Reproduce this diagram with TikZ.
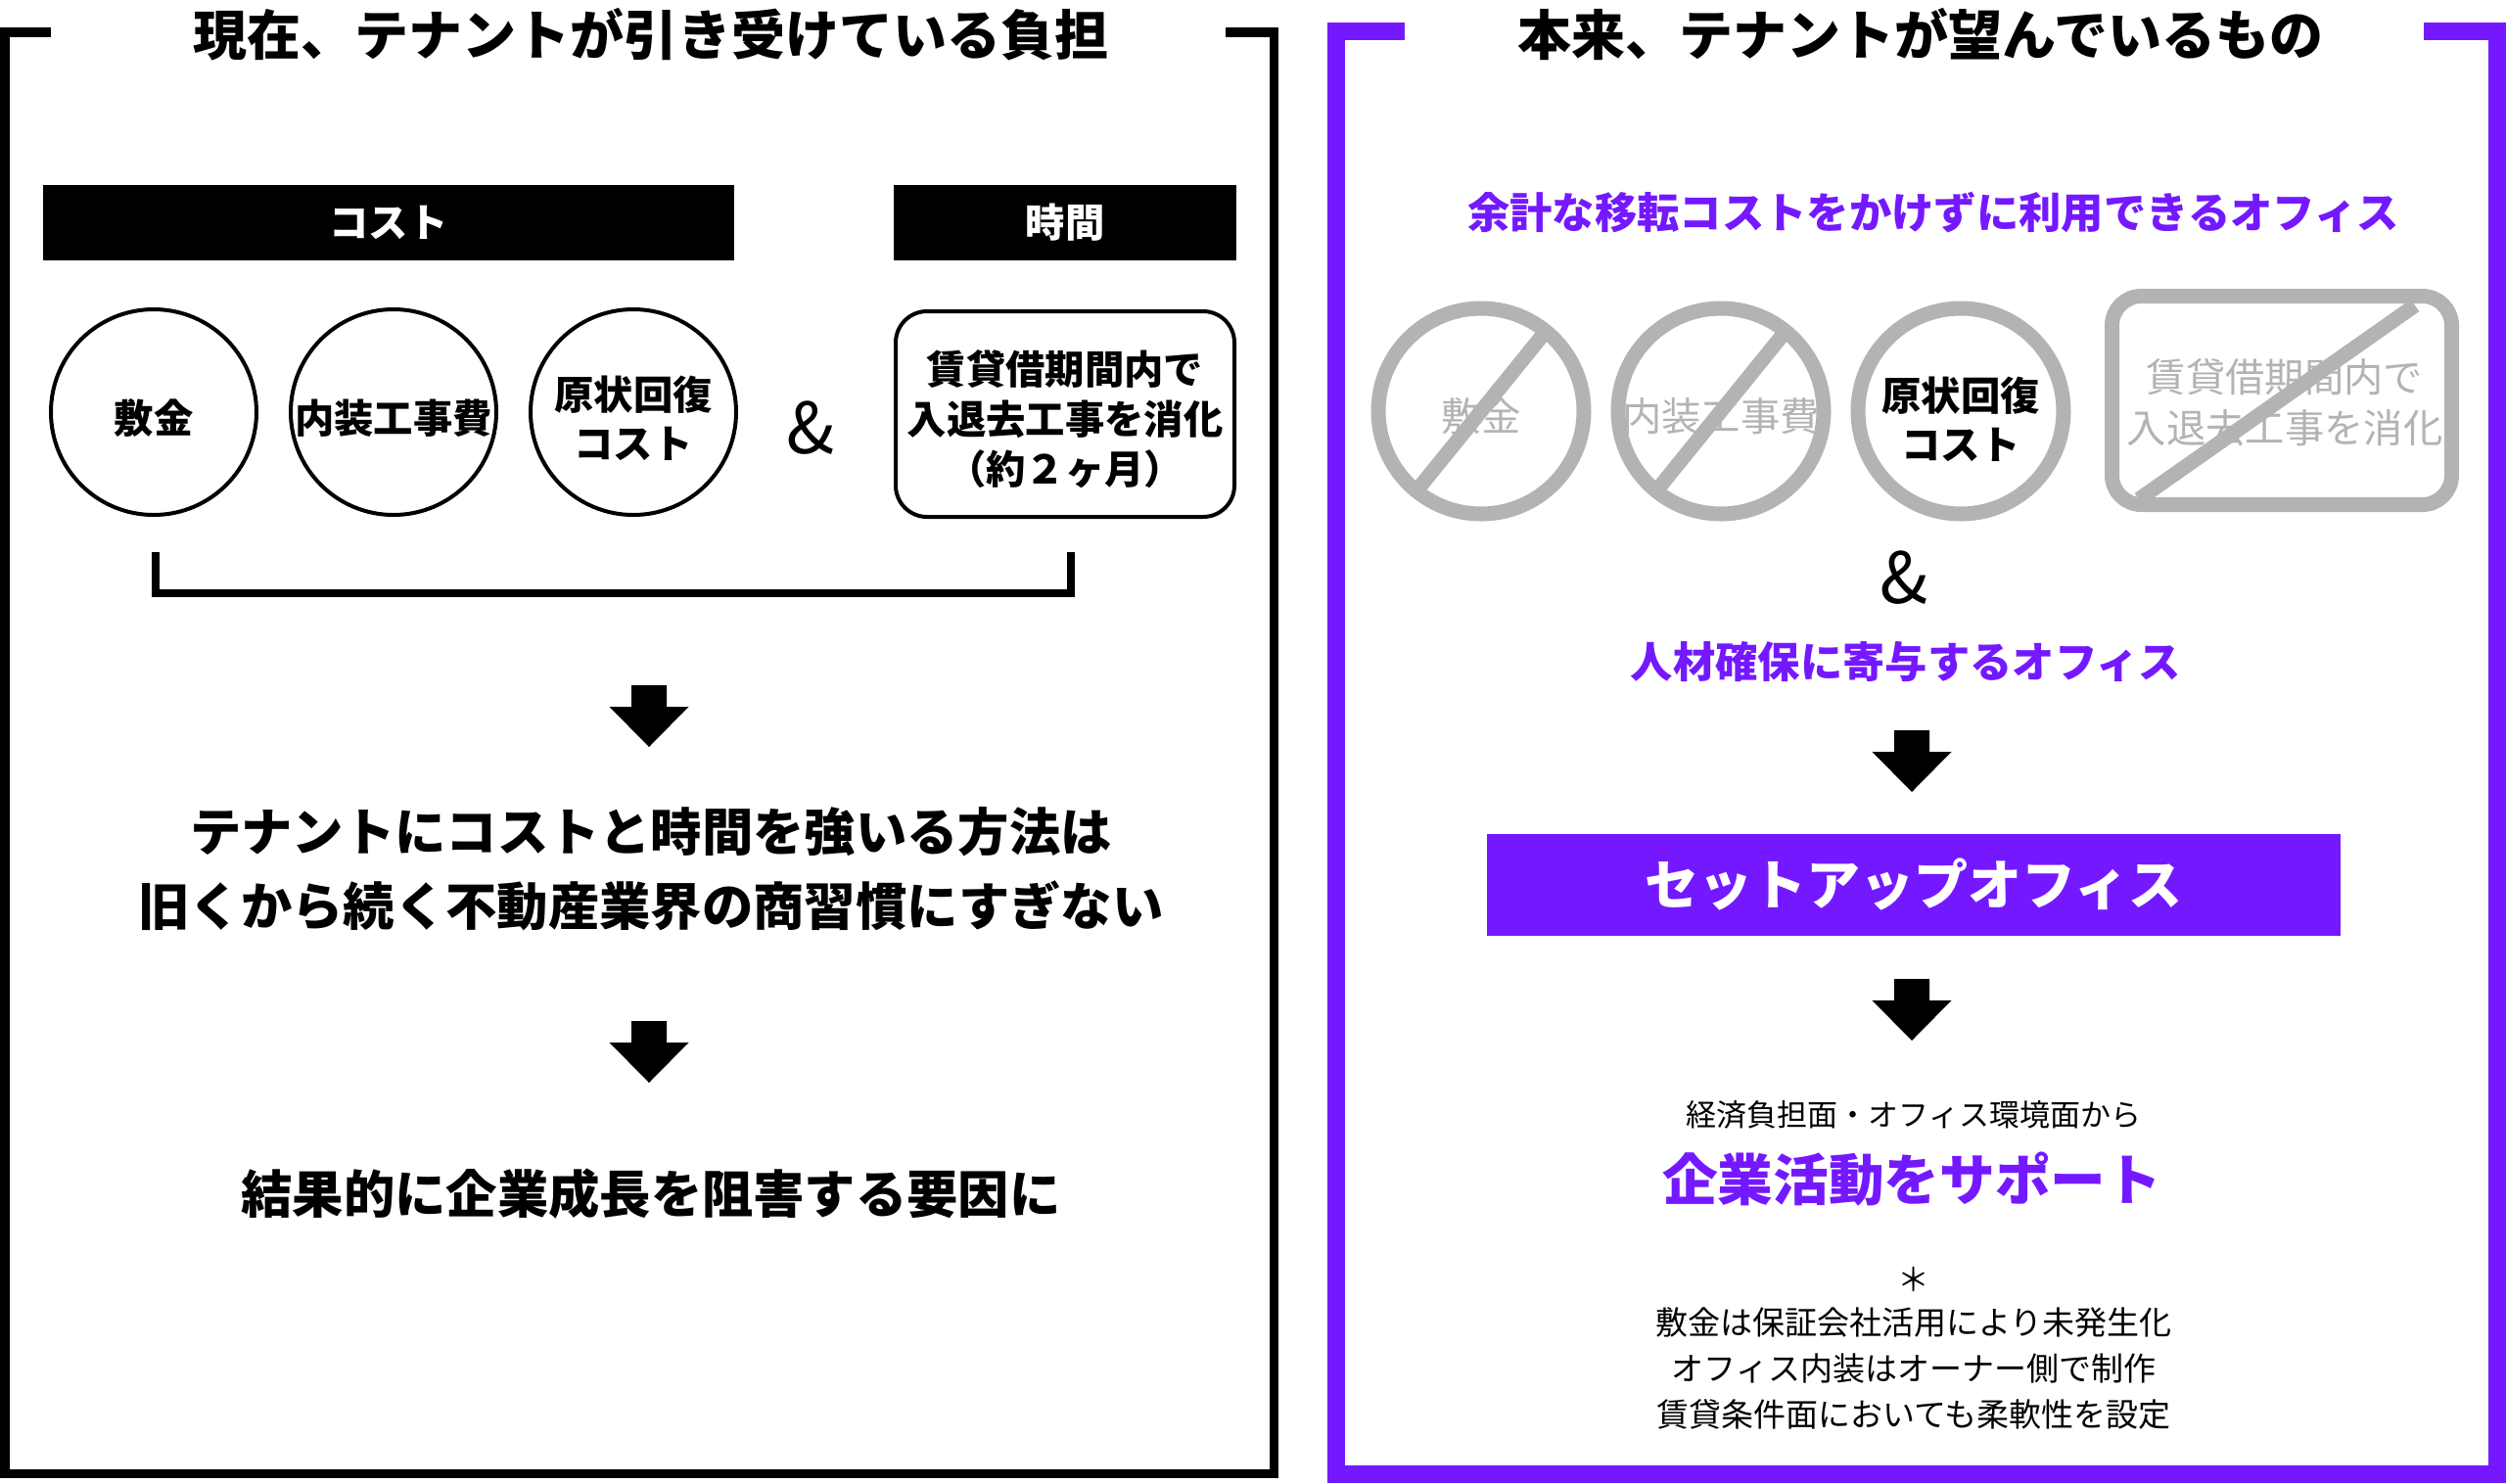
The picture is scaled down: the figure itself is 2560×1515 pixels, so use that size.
\documentclass[tikz,border=0pt]{standalone}
\usepackage{fontspec}
\setmainfont{Noto Sans CJK JP}
\definecolor{vio}{HTML}{7419FF}
\definecolor{gry}{HTML}{B3B3B3}
\tikzset{
  darrow/.pic={\fill[black] (-18,0) -- (18,0) -- (18,22) -- (40.5,22) -- (0,63) -- (-40.5,22) -- (-18,22) -- cycle;},
}
\begin{document}
\begin{tikzpicture}[x=0.3pt,y=-0.3pt,
  every node/.style={inner sep=0pt, outer sep=0pt},
  ttl/.style={font=\fontsize{16.5}{20}\selectfont\bfseries},
  lbl/.style={font=\fontsize{12.1}{15}\selectfont\bfseries, align=center},
  glbl/.style={font=\fontsize{12.1}{15.6}\selectfont, align=center, text=gry},
  big/.style={font=\fontsize{15.7}{19}\selectfont\bfseries},
  amp/.style={font=\fontsize{21.6}{24}\selectfont},
  vtxt/.style={font=\fontsize{13}{16}\selectfont\bfseries, text=vio},
  small/.style={font=\fontsize{9.3}{12}\selectfont},
  note/.style={font=\fontsize{9.9}{14.1}\selectfont, align=center},
  bar/.style={fill=black, text=white, font=\fontsize{12.1}{15}\selectfont\bfseries, minimum height=23.1pt},
  ring/.style={circle, draw=black, line width=1.2pt, minimum size=63pt},
  gring/.style={circle, draw=gry, line width=4.5pt, minimum size=63pt},
  gslash/.style={draw=gry, line width=4.5pt},
]
\useasboundingbox (0,0) rectangle (2560,1515);
\fill[white] (0,0) rectangle (2560,1515);

% ---------- frames ----------
\draw[black, line width=2.85pt, miter limit=10] (52,32.75) -- (4.75,32.75) -- (4.75,1505.25) -- (1301.25,1505.25) -- (1301.25,32.75) -- (1252,32.75);
\draw[vio, line width=5.4pt, miter limit=10] (1435,32) -- (1365,32) -- (1365,1506) -- (2551,1506) -- (2551,32) -- (2476,32);

% ---------- left panel ----------
\node[ttl] (lt) at (665,35) {現在、テナントが引き受けている負担};
\node[bar, minimum width=211.8pt] (cost) at (397,227.5) {コスト};
\node[bar, minimum width=105pt] (time) at (1088,227.5) {時間};

\node[ring] (c1) at (157,421) {};
\node[ring] (c2) at (402,421) {};
\node[ring] (c3) at (647,421) {};
\node[lbl] (c1t) at (157,427) {敷金};
\node[lbl] (c2t) at (402,427) {内装工事費};
\node[lbl] (c3t) at (647,427) {原状回復\\コスト};
\node[amp] (amp1) at (828,437) {\&};
\node[draw=black, line width=1.2pt, rounded corners=9.6pt, minimum width=103.8pt, minimum height=63pt] (rr) at (1088,423) {};
\node[font=\fontsize{12.1}{15.3}\selectfont\bfseries, align=center] (rrt) at (1088,428) {賃貸借期間内で\\入退去工事を消化\\（約２ヶ月）};

\draw[black, line width=2.4pt] (159,564) -- (159,606) -- (1094,606) -- (1094,564);

\pic (la1) at (663,700) {darrow};
\node[big] (m1) at (665,850) {テナントにコストと時間を強いる方法は};
\node[big] (m2) at (665,925) {旧くから続く不動産業界の商習慣にすぎない};
\pic (la2) at (663,1043) {darrow};
\node[big] (m3) at (665,1220) {結果的に企業成長を阻害する要因に};

% ---------- right panel ----------
\node[ttl] (rt) at (1962,35) {本来、テナントが望んでいるもの};
\node[vtxt] (v1) at (1975,217) {余計な移転コストをかけずに利用できるオフィス};

\node[gring] (g1) at (1513,420) {};
\node[gring] (g2) at (1758,420) {};
\node[gring] (g3) at (2003,420) {};
\node[glbl] (g1t) at (1513,425) {敷金};
\node[glbl] (g2t) at (1758,425) {内装工事費};
\node[lbl] (g3t) at (2003,428) {原状回復\\コスト};
\node[draw=gry, line width=4.5pt, rounded corners=9pt, minimum width=104.1pt, minimum height=63.9pt] (gr) at (2331,409) {};
\node[glbl] (grt) at (2334,411) {賃貸借期間内で\\入退去工事を消化};
\draw[gslash] (g1.center) ++(-64,79) -- ++(128,-158);
\draw[gslash] (g2.center) ++(-64,79) -- ++(128,-158);
\draw[gslash] (gr.center) ++(-146,101) -- ++(282,-198);

\node[amp] (amp2) at (1945,590) {\&};
\node[vtxt] (v2) at (1947,676) {人材確保に寄与するオフィス};
\pic (ra1) at (1953,746) {darrow};
\node[fill=vio, text=white, font=\fontsize{16.5}{20}\selectfont\bfseries, minimum width=261.6pt, minimum height=31.2pt] (setup) at (1955,904) {セットアップオフィス};
\pic (ra2) at (1953,1000) {darrow};
\node[small] (s1) at (1955,1139) {経済負担面・オフィス環境面から};
\node[font=\fontsize{17}{20}\selectfont\bfseries, text=vio] (s2) at (1953,1205) {企業活動をサポート};
\node[note] (ast) at (1955,1307) {＊};
\node[note] (notes) at (1955,1398) {敷金は保証会社活用により未発生化\\オフィス内装はオーナー側で制作\\賃貸条件面においても柔軟性を設定};
\end{tikzpicture}
\end{document}
